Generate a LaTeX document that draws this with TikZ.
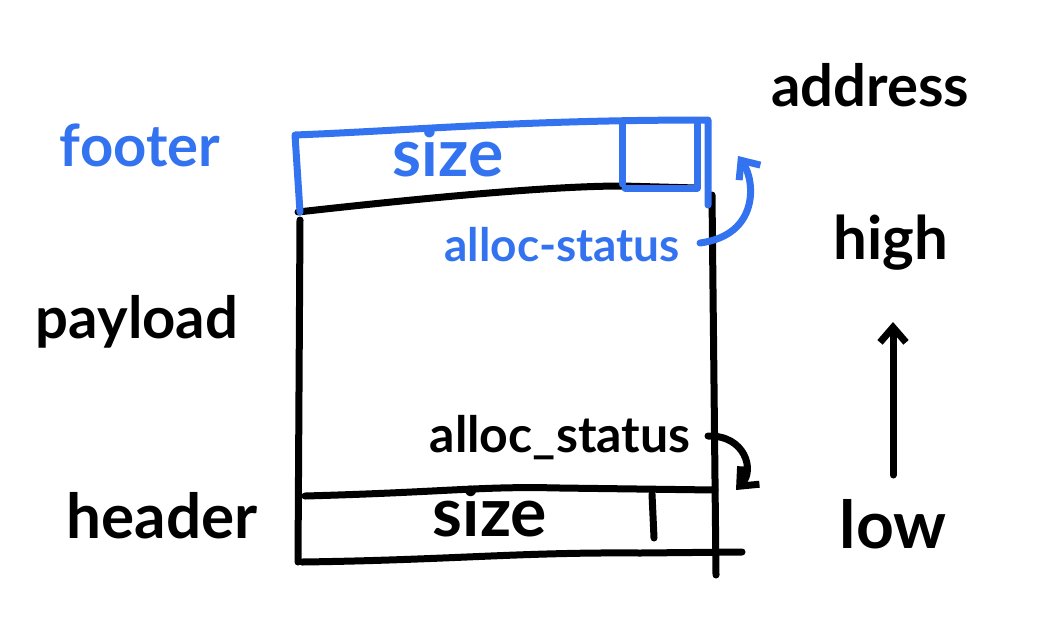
\documentclass[tikz,border=0pt]{standalone}
\usepackage{fontspec}
\setmainfont{Lato}
\usetikzlibrary{arrows.meta}
\definecolor{pen}{RGB}{51,115,240}
\tikzset{
  x=1pt, y=-1pt,
  stroke/.style={line width=7pt, line cap=round, line join=round},
  lbl/.style={font=\bfseries\fontsize{58}{62}\selectfont, inner sep=0pt},
  bluelbl/.style={lbl, text=pen},
  tip/.style={-{Straight Barb[length=15pt,width=26pt,line width=7pt]}},
}
\begin{document}
\begin{tikzpicture}
\useasboundingbox (0,0) rectangle (1056,630);
% coordinates of the block
\coordinate (ftl) at (295,135);
\coordinate (ftr) at (708,120);
\coordinate (fbl) at (298,212);
\coordinate (fbm) at (622,186);
\coordinate (sqtl) at (622,122);
\coordinate (sqbr) at (697,188);
\coordinate (lt) at (300,220);
\coordinate (lb) at (298,562);
\coordinate (rt) at (712,195);
\coordinate (rb) at (716,575);
\coordinate (htl) at (305,496);
\coordinate (htr) at (715,490);
\coordinate (hbl) at (302,562);
\coordinate (hbr) at (742,552);
\coordinate (hdt) at (652,494);
\coordinate (hdb) at (654,538);

% black body
\draw[stroke] (lt) -- (lb);
\draw[stroke] (rt) -- (rb);
\draw[stroke] (fbl) .. controls (450,195) and (560,186) .. (fbm) -- (697,188);
\draw[stroke] (htl) .. controls (450,492) and (480,486) .. (560,488) -- (htr);
\draw[stroke] (hbl) .. controls (450,560) and (520,552) .. (640,553) -- (hbr);
\draw[stroke] (hdt) -- (hdb);

% blue footer
\draw[stroke, pen] (300,212) -- (ftl) .. controls (420,130) and (520,120) .. (ftr) -- (708,205);
\draw[stroke, pen] (sqtl) -- (622,184);
\draw[stroke, pen] (625,188) -- (sqbr) -- (697,122);

% texts
\node[bluelbl, font=\bfseries\fontsize{66}{70}\selectfont] (fsize) at (448,152) {size};
\node[lbl, font=\bfseries\fontsize{68}{72}\selectfont] (hsize) at (490,512) {size};
\node[bluelbl, font=\bfseries\fontsize{46}{50}\selectfont] (fstat) at (562,245) {alloc-status};
\node[lbl, font=\bfseries\fontsize{50}{54}\selectfont] (hstat) at (560,438) {alloc\_status};
\node[bluelbl] (footer) at (140,145) {footer};
\node[lbl] (payload) at (137,322) {payload};
\node[lbl, font=\bfseries\fontsize{62}{66}\selectfont] (header) at (162,516) {header};
\node[lbl] (address) at (870,85) {address};
\node[lbl, font=\bfseries\fontsize{60}{64}\selectfont] (high) at (891,243) {high};
\node[lbl, font=\bfseries\fontsize{66}{70}\selectfont] (low) at (893,524) {low};

% arrows
\coordinate (fa) at (700,243);
\coordinate (fb) at (738,156);
\draw[stroke, pen, tip] (fa) .. controls (760,235) and (755,180) .. (fb);
\coordinate (ha) at (708,436);
\coordinate (hb) at (736,490);
\draw[stroke, tip] (ha) .. controls (745,435) and (755,470) .. (hb);
\coordinate (ua) at (893,475);
\coordinate (ub) at (893,322);
\draw[stroke, tip] (ua) -- (ub);
\end{tikzpicture}
\end{document}
